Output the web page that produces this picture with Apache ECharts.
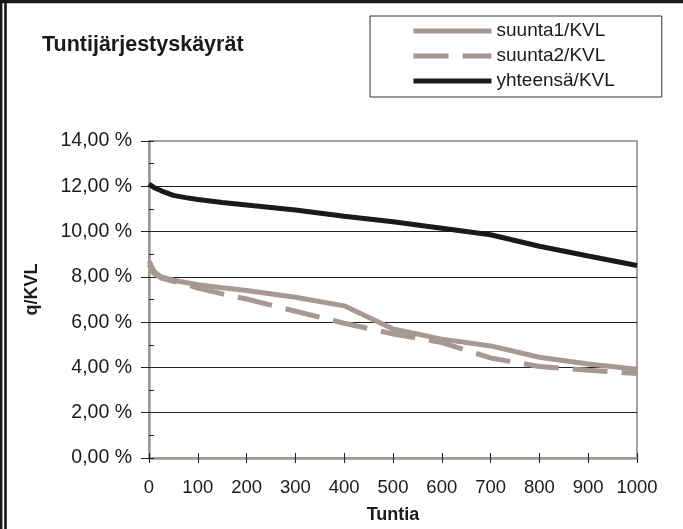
<!DOCTYPE html>
<html><head><meta charset="utf-8">
<script src="https://cdn.jsdelivr.net/npm/echarts@6/dist/echarts.min.js"></script>
<style>html,body{margin:0;padding:0;background:#fff}#c{width:683px;height:529px}</style>
</head><body><div id="c"></div>
<script>
const hours = [0, 10, 25, 50, 75, 100, 150, 200, 300, 400, 500, 600, 700, 800, 900, 1000];
const suunta1 = [8.7, 8.25, 8.0, 7.85, 7.75, 7.65, 7.52, 7.4, 7.1, 6.72, 5.7, 5.25, 4.95, 4.45, 4.15, 3.92];
const suunta2 = [8.55, 8.15, 7.95, 7.8, 7.68, 7.5, 7.25, 7.02, 6.48, 5.95, 5.48, 5.1, 4.42, 4.04, 3.88, 3.73];
const yhteensa = [12.1, 11.95, 11.8, 11.6, 11.5, 11.42, 11.28, 11.17, 10.95, 10.68, 10.43, 10.15, 9.86, 9.35, 8.92, 8.5];
const seriesNames = ['suunta1/KVL', 'suunta2/KVL', 'yhteensä/KVL'];
const xTicks = [0, 100, 200, 300, 400, 500, 600, 700, 800, 900, 1000];
const yTicks = [0, 2, 4, 6, 8, 10, 12, 14];

const pair = (ys) => hours.map((h, i) => [h, ys[i]]);
const font = 'Liberation Sans, Arial, sans-serif';
const grey = '#a69894';
const frameGrey = '#aa9f9b';
const chart = echarts.init(document.getElementById('c'), null, {renderer: 'canvas'});
chart.setOption({
  animation: false,
  title: {
    text: 'Tuntijärjestyskäyrät', left: 37, top: 29,
    textStyle: {fontFamily: font, fontWeight: 'bold', fontSize: 21.5, color: '#1a1a1a'}
  },
  legend: {
    orient: 'vertical', left: 370, top: 16,
    padding: [5, 47, 6, 41],
    itemGap: 5, itemWidth: 78, itemHeight: 10,
    borderColor: '#333', borderWidth: 1,
    textStyle: {fontFamily: font, fontSize: 19, color: '#1a1a1a', lineHeight: 20},
    lineStyle: {width: 'inherit'},
    itemStyle: {opacity: 0},
    data: seriesNames
  },
  grid: {left: 149, right: 46, top: 141, bottom: 70, show: true, borderColor: frameGrey, borderWidth: 2, containLabel: false},
  xAxis: [{
    type: 'value', min: 0, max: 1000, interval: 100,
    name: 'Tuntia', nameLocation: 'middle', nameGap: 48,
    nameTextStyle: {fontFamily: font, fontWeight: 'bold', fontSize: 18, color: '#1a1a1a'},
    axisLine: {show: true, lineStyle: {color: '#a39692', width: 2.5}},
    axisTick: {show: true, length: 5, lineStyle: {color: '#222'}},
    axisLabel: {margin: 20, fontFamily: font, fontSize: 18.5, color: '#1a1a1a',
      formatter: v => xTicks.includes(v) ? String(v) : ''},
    splitLine: {show: false}
  }, {
    type: 'value', min: 0, max: 1000, interval: 100, position: 'bottom',
    axisLine: {show: false}, axisLabel: {show: false}, splitLine: {show: false},
    axisTick: {show: true, inside: true, length: 5, lineStyle: {color: '#222'}}
  }],
  yAxis: [{
    type: 'value', min: 0, max: 14, interval: 2,
    name: 'q/KVL', nameLocation: 'middle', nameGap: 108, nameRotate: 90,
    nameTextStyle: {fontFamily: font, fontWeight: 'bold', fontSize: 18, color: '#1a1a1a', padding: [0, 0, 0, 20]},
    axisLine: {show: true, lineStyle: {color: '#a39692', width: 2.5}},
    axisTick: {show: true, length: 8, lineStyle: {color: '#222'}},
    axisLabel: {margin: 17, fontFamily: font, fontSize: 19.5, color: '#1a1a1a',
      formatter: v => yTicks.includes(v) ? v.toFixed(2).replace('.', ',') + ' %' : ''},
    splitLine: {show: true, lineStyle: {color: ['rgba(0,0,0,0)', '#222', '#222', '#222', '#222', '#222', '#222', frameGrey], width: 1}}
  }, {
    type: 'value', min: 0, max: 14, interval: 1, position: 'left',
    axisLine: {show: false}, axisLabel: {show: false}, splitLine: {show: false},
    axisTick: {show: true, inside: true, length: 5, lineStyle: {color: '#222'}}
  }],
  series: [
    {name: seriesNames[0], type: 'line', data: pair(suunta1), symbol: 'none', color: grey,
     lineStyle: {color: grey, width: 5}},
    {name: seriesNames[1], type: 'line', data: pair(suunta2), symbol: 'none', color: grey,
     lineStyle: {color: grey, width: 5, type: [35, 14]}},
    {name: seriesNames[2], type: 'line', data: pair(yhteensa), symbol: 'none', color: '#1a1a1a',
     lineStyle: {color: '#1a1a1a', width: 5}}
  ],
  graphic: [
    {type: 'rect', shape: {x: 0, y: 0, width: 683, height: 3.3}, style: {fill: '#1a1a1a'}, silent: true},
    {type: 'rect', shape: {x: 0, y: 0, width: 2.4, height: 529}, style: {fill: '#1a1a1a'}, silent: true},
    {type: 'rect', shape: {x: 4.2, y: 0, width: 2.6, height: 529}, style: {fill: '#1a1a1a'}, silent: true}
  ]
});
</script></body></html>
